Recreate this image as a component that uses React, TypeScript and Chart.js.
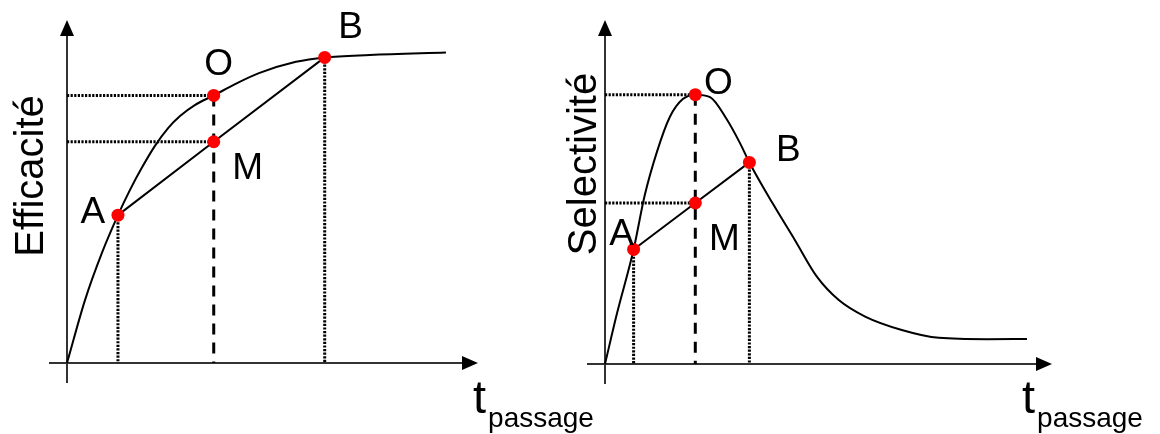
import { useEffect, useRef } from "react";
import { Chart, registerables } from "chart.js";
Chart.register(...registerables);

// ---- data (arbitrary units, t in 0..10, y in 0..1) ----
const keyLabels = ["A", "O", "M", "B"];

const effCurveT = [0, 0.44, 0.85, 1.24, 1.53, 1.82, 2.14, 2.46, 2.75, 3.11, 3.57, 4.09, 4.67, 5.57, 6.27, 7.37, 9.22];
const effCurveY = [0, 0.184, 0.321, 0.431, 0.504, 0.569, 0.633, 0.685, 0.72, 0.752, 0.78, 0.813, 0.845, 0.878, 0.891, 0.898, 0.905];
const effKeyT = [1.24, 3.57, 3.57, 6.27];
const effKeyY = [0.431, 0.78, 0.645, 0.891];

const selCurveT = [0, 0.27, 0.64, 0.89, 1.16, 1.45, 1.74, 2.02, 2.35, 2.72, 3.02, 3.23, 3.75, 4.25, 4.74, 5.23, 5.82, 6.64, 7.47, 8.55, 9.44];
const selCurveY = [0, 0.148, 0.333, 0.491, 0.616, 0.718, 0.77, 0.783, 0.776, 0.712, 0.642, 0.586, 0.467, 0.36, 0.254, 0.186, 0.138, 0.099, 0.076, 0.072, 0.073];
const selKeyT = [0.64, 2.02, 2.02, 3.23];
const selKeyY = [0.333, 0.783, 0.468, 0.586];

const yTitles = ["Efficacité", "Selectivité"];
const xTitleMain = "t";
const xTitleSub = "passage";

const FONT = '"Liberation Sans", Arial, Helvetica, sans-serif';
const W = 1160;
const H = 434;

type PanelCfg = {
  curveT: number[];
  curveY: number[];
  keyT: number[];
  keyY: number[];
  yTitle: string;
  padding: { left: number; right: number; top: number; bottom: number };
  titlePos: [number, number];
  xTitlePos: [number, number];
  labelOffsets: [number, number][];
};

const panels: PanelCfg[] = [
  {
    curveT: effCurveT,
    curveY: effCurveY,
    keyT: effKeyT,
    keyY: effKeyY,
    yTitle: yTitles[0],
    padding: { left: 67, right: 682, top: 20, bottom: 71 },
    titlePos: [43, 176],
    xTitlePos: [473, 413],
    labelOffsets: [[-25, 8], [5, -20], [34, 37], [26, -19]],
  },
  {
    curveT: selCurveT,
    curveY: selCurveY,
    keyT: selKeyT,
    keyY: selKeyY,
    yTitle: yTitles[1],
    padding: { left: 605, right: 108, top: 20, bottom: 70 },
    titlePos: [596, 164],
    xTitlePos: [1022, 413],
    labelOffsets: [[-12, -4], [23, -1], [29, 47], [39, -1]],
  },
];

function makeChart(canvas: HTMLCanvasElement, cfg: PanelCfg) {
  const pts = (ts: number[], ys: number[]) => ts.map((t, i) => ({ x: t, y: ys[i] }));
  const [aT, oT, mT, bT] = cfg.keyT;
  const [aY, oY, mY, bY] = cfg.keyY;

  const dotted = {
    borderColor: "#000",
    borderWidth: 3,
    borderDash: [2.2, 1.4],
    pointRadius: 0,
    showLine: true,
    order: 3,
  };
  const dashed = { borderColor: "#000", borderWidth: 3, borderDash: [11, 8], pointRadius: 0, showLine: true, order: 3 };

  const diagramPlugin = {
    id: "diagram",
    beforeDatasetsDraw(chart: any) {
      const ctx = chart.ctx;
      const xs = chart.scales.x;
      const ys = chart.scales.y;
      const x0 = xs.getPixelForValue(0);
      const y0 = ys.getPixelForValue(0);
      const { top, right } = chart.chartArea;
      ctx.save();
      ctx.strokeStyle = "#333";
      ctx.fillStyle = "#000";
      ctx.lineWidth = 2;
      ctx.beginPath();
      ctx.moveTo(x0, y0 + 20);
      ctx.lineTo(x0, top + 10);
      ctx.moveTo(x0 - 18, y0);
      ctx.lineTo(right - 10, y0);
      ctx.stroke();
      ctx.beginPath();
      ctx.moveTo(x0, top);
      ctx.lineTo(x0 - 7, top + 16);
      ctx.lineTo(x0 + 7, top + 16);
      ctx.closePath();
      ctx.fill();
      ctx.beginPath();
      ctx.moveTo(right, y0);
      ctx.lineTo(right - 16, y0 - 7);
      ctx.lineTo(right - 16, y0 + 7);
      ctx.closePath();
      ctx.fill();
      ctx.restore();
    },
    afterDatasetsDraw(chart: any) {
      const ctx = chart.ctx;
      const xs = chart.scales.x;
      const ys = chart.scales.y;
      ctx.save();
      ctx.fillStyle = "#000";
      // point labels
      ctx.font = `37px ${FONT}`;
      ctx.textAlign = "center";
      ctx.textBaseline = "alphabetic";
      keyLabels.forEach((lab, i) => {
        const px = xs.getPixelForValue(cfg.keyT[i]);
        const py = ys.getPixelForValue(cfg.keyY[i]);
        const [dx, dy] = cfg.labelOffsets[i];
        ctx.fillText(lab, px + dx, py + dy);
      });
      // y title (rotated)
      ctx.save();
      ctx.translate(cfg.titlePos[0], cfg.titlePos[1]);
      ctx.rotate(-Math.PI / 2);
      ctx.font = `40px ${FONT}`;
      ctx.textAlign = "center";
      ctx.fillText(cfg.yTitle, 0, 0);
      ctx.restore();
      // x title with subscript
      ctx.textAlign = "left";
      ctx.font = `47px ${FONT}`;
      ctx.fillText(xTitleMain, cfg.xTitlePos[0], cfg.xTitlePos[1]);
      const w = ctx.measureText(xTitleMain).width;
      ctx.font = `28px ${FONT}`;
      ctx.fillText(xTitleSub, cfg.xTitlePos[0] + w + 2, cfg.xTitlePos[1] + 14);
      ctx.restore();
    },
  };

  return new Chart(canvas, {
    type: "scatter",
    data: {
      datasets: [
        // guides
        { ...dotted, data: [{ x: 0, y: oY }, { x: oT, y: oY }] },
        { ...dotted, data: [{ x: 0, y: mY }, { x: mT, y: mY }] },
        { ...dotted, data: [{ x: aT, y: aY }, { x: aT, y: 0 }] },
        { ...dotted, data: [{ x: bT, y: bY }, { x: bT, y: 0 }] },
        { ...dashed, data: [{ x: oT, y: oY }, { x: oT, y: 0 }] },
        // main curve
        {
          data: pts(cfg.curveT, cfg.curveY),
          showLine: true,
          borderColor: "#000",
          borderWidth: 2,
          pointRadius: 0,
          cubicInterpolationMode: "monotone",
          order: 2,
        } as any,
        // chord A-M-B
        {
          data: [{ x: aT, y: aY }, { x: mT, y: mY }, { x: bT, y: bY }],
          showLine: true,
          borderColor: "#000",
          borderWidth: 2,
          pointRadius: 0,
          order: 2,
        },
        // key points
        {
          data: pts(cfg.keyT, cfg.keyY),
          showLine: false,
          pointRadius: 6.5,
          pointBackgroundColor: "#ff0000",
          pointBorderWidth: 0,
          borderColor: "#ff0000",
          order: 1,
        },
      ] as any,
    },
    options: {
      animation: false,
      responsive: false,
      devicePixelRatio: 1,
      clip: false as any,
      layout: { padding: cfg.padding },
      plugins: { legend: { display: false }, tooltip: { enabled: false } },
      events: [],
      scales: {
        x: { type: "linear", min: 0, max: 10, display: false },
        y: { type: "linear", min: 0, max: 1, display: false },
      },
    },
    plugins: [diagramPlugin],
  });
}

function Panel({ cfg }: { cfg: PanelCfg }) {
  const ref = useRef<HTMLCanvasElement | null>(null);
  useEffect(() => {
    if (!ref.current) return;
    const chart = makeChart(ref.current, cfg);
    return () => chart.destroy();
  }, [cfg]);
  return (
    <canvas
      ref={ref}
      width={W}
      height={H}
      style={{ position: "absolute", left: 0, top: 0, display: "block" }}
    />
  );
}

export default function App() {
  return (
    <div style={{ position: "absolute", left: 0, top: 0, width: W, height: H, background: "#fff", overflow: "hidden" }}>
      <Panel cfg={panels[0]} />
      <Panel cfg={panels[1]} />
    </div>
  );
}
